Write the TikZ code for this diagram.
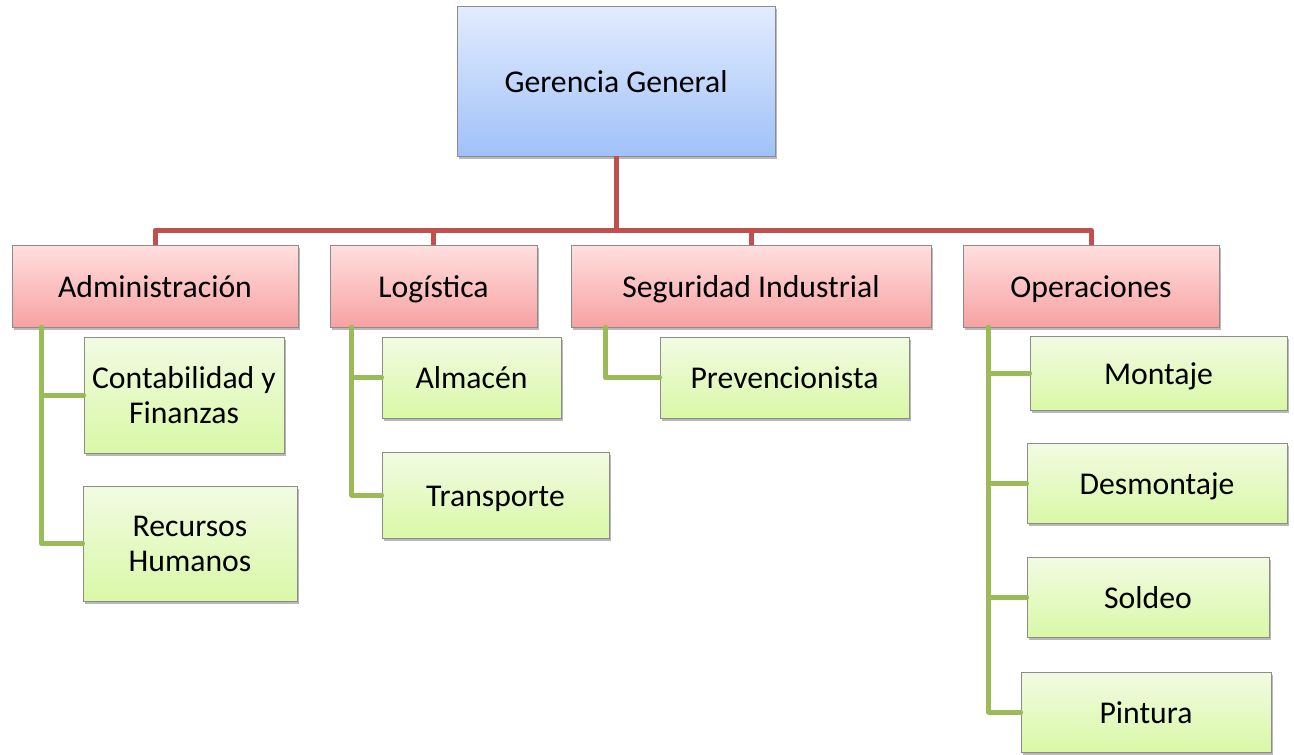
\documentclass[tikz,border=0pt]{standalone}
\usepackage{fontspec}
\setmainfont{Carlito}
\usetikzlibrary{shadows}
\definecolor{redline}{HTML}{C0504D}
\definecolor{greenline}{HTML}{9BBB59}
\definecolor{boxborder}{HTML}{8C8C8C}
\definecolor{bluetop}{HTML}{E2ECFD}
\definecolor{bluebot}{HTML}{A0C1F9}
\definecolor{redtop}{HTML}{FFDFDF}
\definecolor{redbot}{HTML}{F7A2A2}
\definecolor{greentop}{HTML}{F2FBE3}
\definecolor{greenbot}{HTML}{D9F8A6}
\tikzset{
  basebox/.style={draw=boxborder, line width=0.8pt, inner sep=0pt, align=center,
    font=\fontsize{31.7}{35}\selectfont,
    drop shadow={fill=black, opacity=0.28, shadow xshift=2pt, shadow yshift=-3pt}},
  oneline/.style={text height=27pt, text depth=5pt},
  topbox/.style={basebox, oneline, top color=bluetop, bottom color=bluebot},
  deptbox/.style={basebox, oneline, top color=redtop, bottom color=redbot},
  unitbox/.style={basebox, oneline, top color=greentop, bottom color=greenbot},
  unitboxtwo/.style={basebox, top color=greentop, bottom color=greenbot},
  redlink/.style={draw=redline, line width=5pt, line join=round},
  greenlink/.style={draw=greenline, line width=5pt, line join=round, line cap=round},
}
\begin{document}
\begin{tikzpicture}[x=1pt, y=-1pt]
\useasboundingbox (0,0) rectangle (1294,755);
% top
\node[topbox, minimum width=318pt, minimum height=150pt] (g) at (616,81) {Gerencia General};
% departments
\node[deptbox, minimum width=286pt, minimum height=82pt] (adm) at (155,286) {Administración};
\node[deptbox, minimum width=207pt, minimum height=82pt] (log) at (433.5,286) {Logística};
\node[deptbox, minimum width=360pt, minimum height=82pt] (seg) at (751,286) {Seguridad Industrial};
\node[deptbox, minimum width=256pt, minimum height=82pt] (ope) at (1091,286) {Operaciones};
% units
\node[unitboxtwo, minimum width=200pt, minimum height=116pt] (con) at (184,395) {Contabilidad y\\Finanzas};
\node[unitboxtwo, minimum width=214pt, minimum height=115pt] (rh) at (190,543.5) {Recursos\\Humanos};
\node[unitbox, minimum width=179pt, minimum height=81pt] (alm) at (471.5,377.5) {Almacén};
\node[unitbox, minimum width=227pt, minimum height=86pt] (tra) at (495.5,495) {Transporte};
\node[unitbox, minimum width=249pt, minimum height=81pt] (pre) at (784.5,377.5) {Prevencionista};
\node[unitbox, minimum width=257pt, minimum height=74pt] (mon) at (1158.5,373) {Montaje};
\node[unitbox, minimum width=260pt, minimum height=80pt] (des) at (1157,483) {Desmontaje};
\node[unitbox, minimum width=242pt, minimum height=80pt] (sol) at (1148,597) {Soldeo};
\node[unitbox, minimum width=250pt, minimum height=80pt] (pin) at (1146,712) {Pintura};
% red bus
\coordinate (bus) at (0,230);
\draw[redlink] (g.south) -- (g.south |- bus) -| (adm.north);
\draw[redlink] (g.south) -- (g.south |- bus) -| (log.north);
\draw[redlink] (g.south) -- (g.south |- bus) -| (seg.north);
\draw[redlink] (g.south) -- (g.south |- bus) -| (ope.north);
% green links
\draw[greenlink] ([xshift=30pt]adm.south west) |- (con.west);
\draw[greenlink] ([xshift=30pt]adm.south west) |- (rh.west);
\draw[greenlink] ([xshift=22pt]log.south west) |- (alm.west);
\draw[greenlink] ([xshift=22pt]log.south west) |- (tra.west);
\draw[greenlink] ([xshift=35pt]seg.south west) |- (pre.west);
\draw[greenlink] ([xshift=26pt]ope.south west) |- (mon.west);
\draw[greenlink] ([xshift=26pt]ope.south west) |- (des.west);
\draw[greenlink] ([xshift=26pt]ope.south west) |- (sol.west);
\draw[greenlink] ([xshift=26pt]ope.south west) |- (pin.west);
\end{tikzpicture}
\end{document}
